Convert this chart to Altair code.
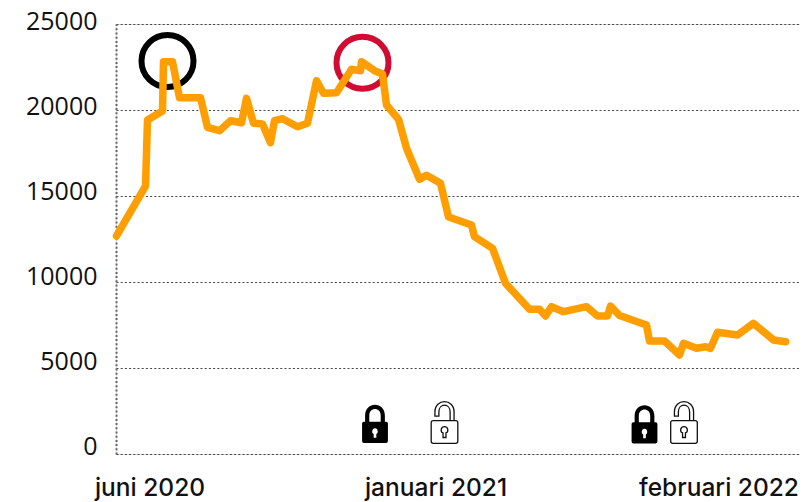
import altair as alt
import pandas as pd

days = [0, 29, 31, 46, 47, 56, 63, 84, 91, 103, 114, 125, 130, 137, 146, 154, 158, 163, 166, 181, 191,
        200, 207, 220, 235, 244, 245, 258, 266, 270, 282, 290, 303, 310, 324, 332, 355, 358, 376, 389,
        413, 423, 429, 435, 447, 470, 481, 491, 494, 503, 530, 533, 548, 563, 567, 580, 589, 594, 601,
        621, 637, 657, 669]
values = [12675, 15580, 19420, 19940, 22810, 22810, 20715, 20715, 18994, 18797, 19378, 19262, 20680,
          19227, 19186, 18099, 19378, 19459, 19494, 19029, 19227, 21704, 20971, 21006, 22366, 22285,
          22808, 22285, 22093, 20291, 19459, 17773, 15971, 16203, 15738, 13779, 13314, 12634, 11959,
          9925, 8413, 8413, 8023, 8564, 8273, 8564, 8023, 8023, 8605, 8052, 7500, 6570, 6570, 5756,
          6436, 6145, 6238, 6145, 7076, 6919, 7599, 6628, 6529]

y_ticks = [0, 5000, 10000, 15000, 20000, 25000]
x_tick_days = [33, 319, 602]
x_tick_labels = ["juni 2020", "januari 2021", "februari 2022"]

black_circle = {"day": [51], "value": [22850]}
red_circle = {"day": [246], "value": [22750]}
closed_locks = {"day": [258.5, 528], "value": [1744, 1715]}
open_locks = {"day": [328, 567.5], "value": [1831, 1831]}

CLOSED = ("M-0.58,-0.12 L0.58,-0.12 Q0.68,-0.12 0.68,-0.02 L0.68,0.9 Q0.68,1 0.58,1 L-0.58,1 "
          "Q-0.68,1 -0.68,0.9 L-0.68,-0.02 Q-0.68,-0.12 -0.58,-0.12 Z "
          "M-0.52,-0.1 L-0.52,-0.45 C-0.52,-1.2 0.52,-1.2 0.52,-0.45 L0.52,-0.1 L0.3,-0.1 L0.3,-0.45 "
          "C0.3,-0.9 -0.3,-0.9 -0.3,-0.45 L-0.3,-0.1 Z "
          "M0,0.22 C-0.18,0.22 -0.18,0.5 -0.07,0.52 L-0.07,0.72 L0.07,0.72 L0.07,0.52 C0.18,0.5 0.18,0.22 0,0.22 Z")
OPEN = ("M-0.54,-0.09 L0.54,-0.09 Q0.64,-0.09 0.64,0.01 L0.64,0.9 Q0.64,1 0.54,1 L-0.54,1 "
        "Q-0.64,1 -0.64,0.9 L-0.64,0.01 Q-0.64,-0.09 -0.54,-0.09 Z "
        "M0.46,-0.09 L0.46,-0.5 C0.46,-1.167 -0.46,-1.167 -0.46,-0.5 L-0.46,-0.31 L-0.27,-0.31 L-0.27,-0.5 "
        "C-0.27,-0.95 0.27,-0.95 0.27,-0.5 L0.27,-0.09 "
        "M0,0.2 C-0.2,0.2 -0.2,0.48 -0.07,0.5 L-0.07,0.72 L0.07,0.72 L0.07,0.5 C0.2,0.48 0.2,0.2 0,0.2 Z")

label_map = "{" + ",".join(f"'{d}':'{l}'" for d, l in zip(x_tick_days, x_tick_labels)) + "}"

x = alt.X("day:Q",
          scale=alt.Scale(domain=[-0.5, 683.5], nice=False, zero=False),
          axis=alt.Axis(values=x_tick_days, title=None, grid=False, domain=False, ticks=False,
                        labelExpr=f"{label_map}[datum.value]", labelFont="Inter", labelFontSize=24.5,
                        labelFontWeight=500, labelColor="#111111", labelPadding=22,
                        labelOverlap=False, labelFlush=False, labelBound=False))
y = alt.Y("value:Q",
          scale=alt.Scale(domain=[0, 25000], nice=False),
          axis=alt.Axis(values=y_ticks, title=None, format="d", grid=True, gridDash=[2, 2.2],
                        gridColor="#444444", gridWidth=1, domain=True, domainDash=[2, 2.2],
                        domainColor="#666666", domainWidth=2, ticks=False,
                        labelFont="Open Sans", labelFontSize=25, labelColor="#111111", labelPadding=19,
                        labelOffset=alt.expr("-7.4 + datum.value / 25000 * 5.1")))

def circle(d, colour):
    return alt.Chart(pd.DataFrame(d)).mark_point(size=2704, filled=False, stroke=colour, strokeWidth=6,
                                                 opacity=1).encode(x=x, y=y)

line = alt.Chart(pd.DataFrame({"day": days, "value": values})).mark_line(
    color="#FF9E00", strokeWidth=7.5, strokeCap="round", strokeJoin="round").encode(x=x, y=y)

closed = alt.Chart(pd.DataFrame(closed_locks)).mark_point(
    shape=CLOSED, size=1444, filled=True, fill="#000000", stroke=None, opacity=1).encode(x=x, y=y)
opened = alt.Chart(pd.DataFrame(open_locks)).mark_point(
    shape=OPEN, size=1730, filled=True, fill="#ffffff", stroke="#111111", strokeWidth=1.3, opacity=1).encode(x=x, y=y)

chart = alt.layer(circle(black_circle, "#000000"), circle(red_circle, "#D00C33"), line, closed, opened).properties(
    width=684, height=430,
    autosize=alt.AutoSizeParams(type="none"),
    padding={"left": 108, "top": 16, "right": 0, "bottom": 48},
).configure_view(stroke=None).configure(background="#ffffff")

chart.save("out.html", embed_options={"renderer": "svg", "actions": False})
